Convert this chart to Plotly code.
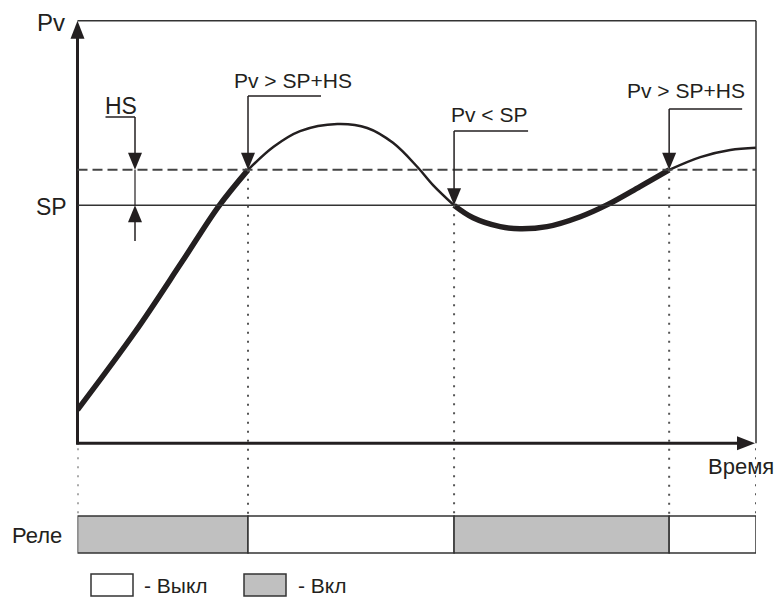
import plotly.graph_objects as go

# ---------------- data ----------------
time_pts = [0, 8.5, 15.4, 20.75, 25.13, 28.9, 32.8, 38.3,
            42.7, 46.5, 50.1, 52.4, 55.5, 58.3, 62.3, 65.2, 69.2, 74.1, 78.1,
            82.9, 87.2, 91.8, 96.2, 100]
pv_pts = [9.4, 31.4, 51.1, 66.6, 77.0, 83.5, 87.9, 89.9,
          88.8, 84.6, 77.8, 72.7, 67.0, 63.5, 61.0, 60.4, 61.0, 63.8, 67.2,
          72.3, 77.0, 80.6, 82.6, 83.2]
SP = 67
HS = 10
switch_times = [0, 25.13, 55.5, 87.2, 100]
relay_on = [True, False, True, False]
switch_labels = ["Pv > SP+HS", "Pv < SP", "Pv > SP+HS"]
switch_levels = [SP + HS, SP, SP + HS]

# ---------------- geometry ----------------
W, H = 784, 598
X0, X1 = 77.5, 756.0      # pixel extent of time axis
Y0, Y1 = 443.3, 20.7      # pixel extent of Pv axis
T_MAX, PV_MAX = 100, 119
BAR_TOP, BAR_BOT = 516, 553
INK = "#231f20"
GRAY = "#c0c0c0"
FONT = "Liberation Sans, Arial, sans-serif"


def ppx(x):
    return x / W


def ppy(y):
    return 1 - y / H


def tx(t):
    return X0 + t * (X1 - X0) / T_MAX


def vy(v):
    return Y0 - v * (Y0 - Y1) / PV_MAX


def path(points):
    return "M " + " L ".join(f"{ppx(x):.5f},{ppy(y):.5f}" for x, y in points) + " Z"


def line_px(x0, y0, x1, y1, width=1.5, color=INK, dash="solid"):
    return dict(type="line", xref="paper", yref="paper",
                x0=ppx(x0), y0=ppy(y0), x1=ppx(x1), y1=ppy(y1),
                line=dict(color=color, width=width, dash=dash))


def arrow_down(x, ytip, L=17, w=7):
    return dict(type="path", xref="paper", yref="paper",
                path=path([(x, ytip), (x - w, ytip - L), (x + w, ytip - L)]),
                fillcolor=INK, line=dict(width=0))


def arrow_up(x, ytip, L=17, w=7):
    return dict(type="path", xref="paper", yref="paper",
                path=path([(x, ytip), (x - w, ytip + L), (x + w, ytip + L)]),
                fillcolor=INK, line=dict(width=0))


def arrow_right(xtip, y, L=18, w=7):
    return dict(type="path", xref="paper", yref="paper",
                path=path([(xtip, y), (xtip - L, y - w), (xtip - L, y + w)]),
                fillcolor=INK, line=dict(width=0))


fig = go.Figure()

# ---- curve segments (thick when relay on) ----
for i in range(len(switch_times) - 1):
    a, b = switch_times[i], switch_times[i + 1]
    ts = [t for t in time_pts if a <= t <= b]
    vs = [v for t, v in zip(time_pts, pv_pts) if a <= t <= b]
    fig.add_trace(go.Scatter(
        x=ts, y=vs, mode="lines",
        line=dict(color=INK, width=5.5 if relay_on[i] else 2.5,
                  shape="spline", smoothing=1.0),
        hoverinfo="skip", showlegend=False, cliponaxis=False,
        xaxis="x", yaxis="y"))

# ---- relay bar ----
starts = switch_times[:-1]
durs = [switch_times[i + 1] - switch_times[i] for i in range(len(starts))]
fig.add_trace(go.Bar(
    x=durs, base=starts, y=[0.5] * len(starts), orientation="h", width=1,
    marker=dict(color=[GRAY if s else "white" for s in relay_on],
                line=dict(color="#333333", width=1.5)),
    hoverinfo="skip", showlegend=False, xaxis="x", yaxis="y2"))

shapes = []
# frame
shapes.append(line_px(X0, Y1, X1, Y1, 1.5, "#333333"))
shapes.append(line_px(X1, Y1, X1, Y0, 1.5, "#333333"))
# axes with arrows
shapes.append(line_px(X0, Y0 + 1.2, X0, Y1 + 14, 3, INK))
shapes.append(arrow_up(X0, Y1, L=18, w=7))
shapes.append(line_px(X0 - 1.2, Y0, X1 - 14, Y0, 3, INK))
shapes.append(arrow_right(X1 - 1, Y0, L=18, w=7))

# SP and SP+HS lines
shapes.append(dict(type="line", xref="paper", yref="y", x0=ppx(X0), x1=ppx(X1),
                   y0=SP, y1=SP, line=dict(color="#333333", width=1.5)))
shapes.append(dict(type="line", xref="paper", yref="y", x0=ppx(X0), x1=ppx(X1),
                   y0=SP + HS, y1=SP + HS,
                   line=dict(color="#444444", width=2, dash="10px,5px")))

# dotted verticals
dot = dict(color="#555555", width=2, dash="2px,7px")
for i, t in enumerate(switch_times):
    if 0 < i < len(switch_times) - 1:
        ytop = vy(switch_levels[i - 1])
    else:
        ytop = Y0 + 5
    shapes.append(dict(type="line", xref="x", yref="paper", x0=t, x1=t,
                       y0=ppy(ytop), y1=ppy(BAR_TOP), line=dot))

# HS marker
hx = 135
shapes.append(line_px(105.5, 117, hx, 117, 1.5))
shapes.append(line_px(hx, 117, hx, vy(SP + HS) - 10, 1.5))
shapes.append(arrow_down(hx, vy(SP + HS)))
shapes.append(line_px(hx, vy(SP + HS), hx, vy(SP), 1.2))
shapes.append(arrow_up(hx, vy(SP)))
shapes.append(line_px(hx, vy(SP) + 10, hx, 241, 1.5))

# switch leaders
leader_y = [96, 131, 109]
leader_len = [73, 74, 73]
for i in range(3):
    x = tx(switch_times[i + 1])
    ytip = vy(switch_levels[i])
    shapes.append(line_px(x, leader_y[i], x + leader_len[i], leader_y[i], 1.5))
    shapes.append(line_px(x, leader_y[i], x, ytip - 10, 1.5))
    shapes.append(arrow_down(x, ytip))

# legend boxes
for bx, col in [(91, "white"), (244, GRAY)]:
    shapes.append(dict(type="rect", xref="paper", yref="paper",
                       x0=ppx(bx), x1=ppx(bx + 42), y0=ppy(574), y1=ppy(596),
                       fillcolor=col, line=dict(color="#333333", width=1.5)))

annots = []


def text(s, x, y, size=21, anchor="left"):
    annots.append(dict(text=s, xref="paper", yref="paper", x=ppx(x), y=ppy(y),
                       xanchor=anchor, yanchor="middle", showarrow=False,
                       font=dict(family=FONT, size=size, color=INK)))


text("Pv", 35, 23, 24)
text("SP", 34, 207, 23)
text("HS", 103, 106, 23)
label_pos = [(232, 80), (449, 115), (625, 90)]
for s, (x, y) in zip(switch_labels, label_pos):
    text(s, x, y, 21)
text("Время", 706, 466, 22)
text("Реле", 10, 535, 22)
text("- Выкл", 142, 585, 21)
text("- Вкл", 296, 585, 21)

fig.update_layout(
    width=W, height=H, autosize=False,
    margin=dict(l=0, r=0, t=0, b=0),
    paper_bgcolor="white", plot_bgcolor="rgba(0,0,0,0)",
    shapes=shapes, annotations=annots, showlegend=False,
    xaxis=dict(domain=[ppx(X0), ppx(X1)], range=[0, T_MAX], visible=False,
               fixedrange=True, anchor="y"),
    yaxis=dict(domain=[ppy(Y0), ppy(Y1)], range=[0, PV_MAX], visible=False,
               fixedrange=True, anchor="x"),
    yaxis2=dict(domain=[ppy(BAR_BOT + 2), ppy(BAR_TOP - 2)],
                range=[-2 / 37, 1 + 2 / 37], visible=False, fixedrange=True,
                anchor="x"),
)

fig.write_html("out.html", config={"displayModeBar": False},
               post_script="document.body.style.margin='0';"
                           "document.body.style.overflow='hidden';")
